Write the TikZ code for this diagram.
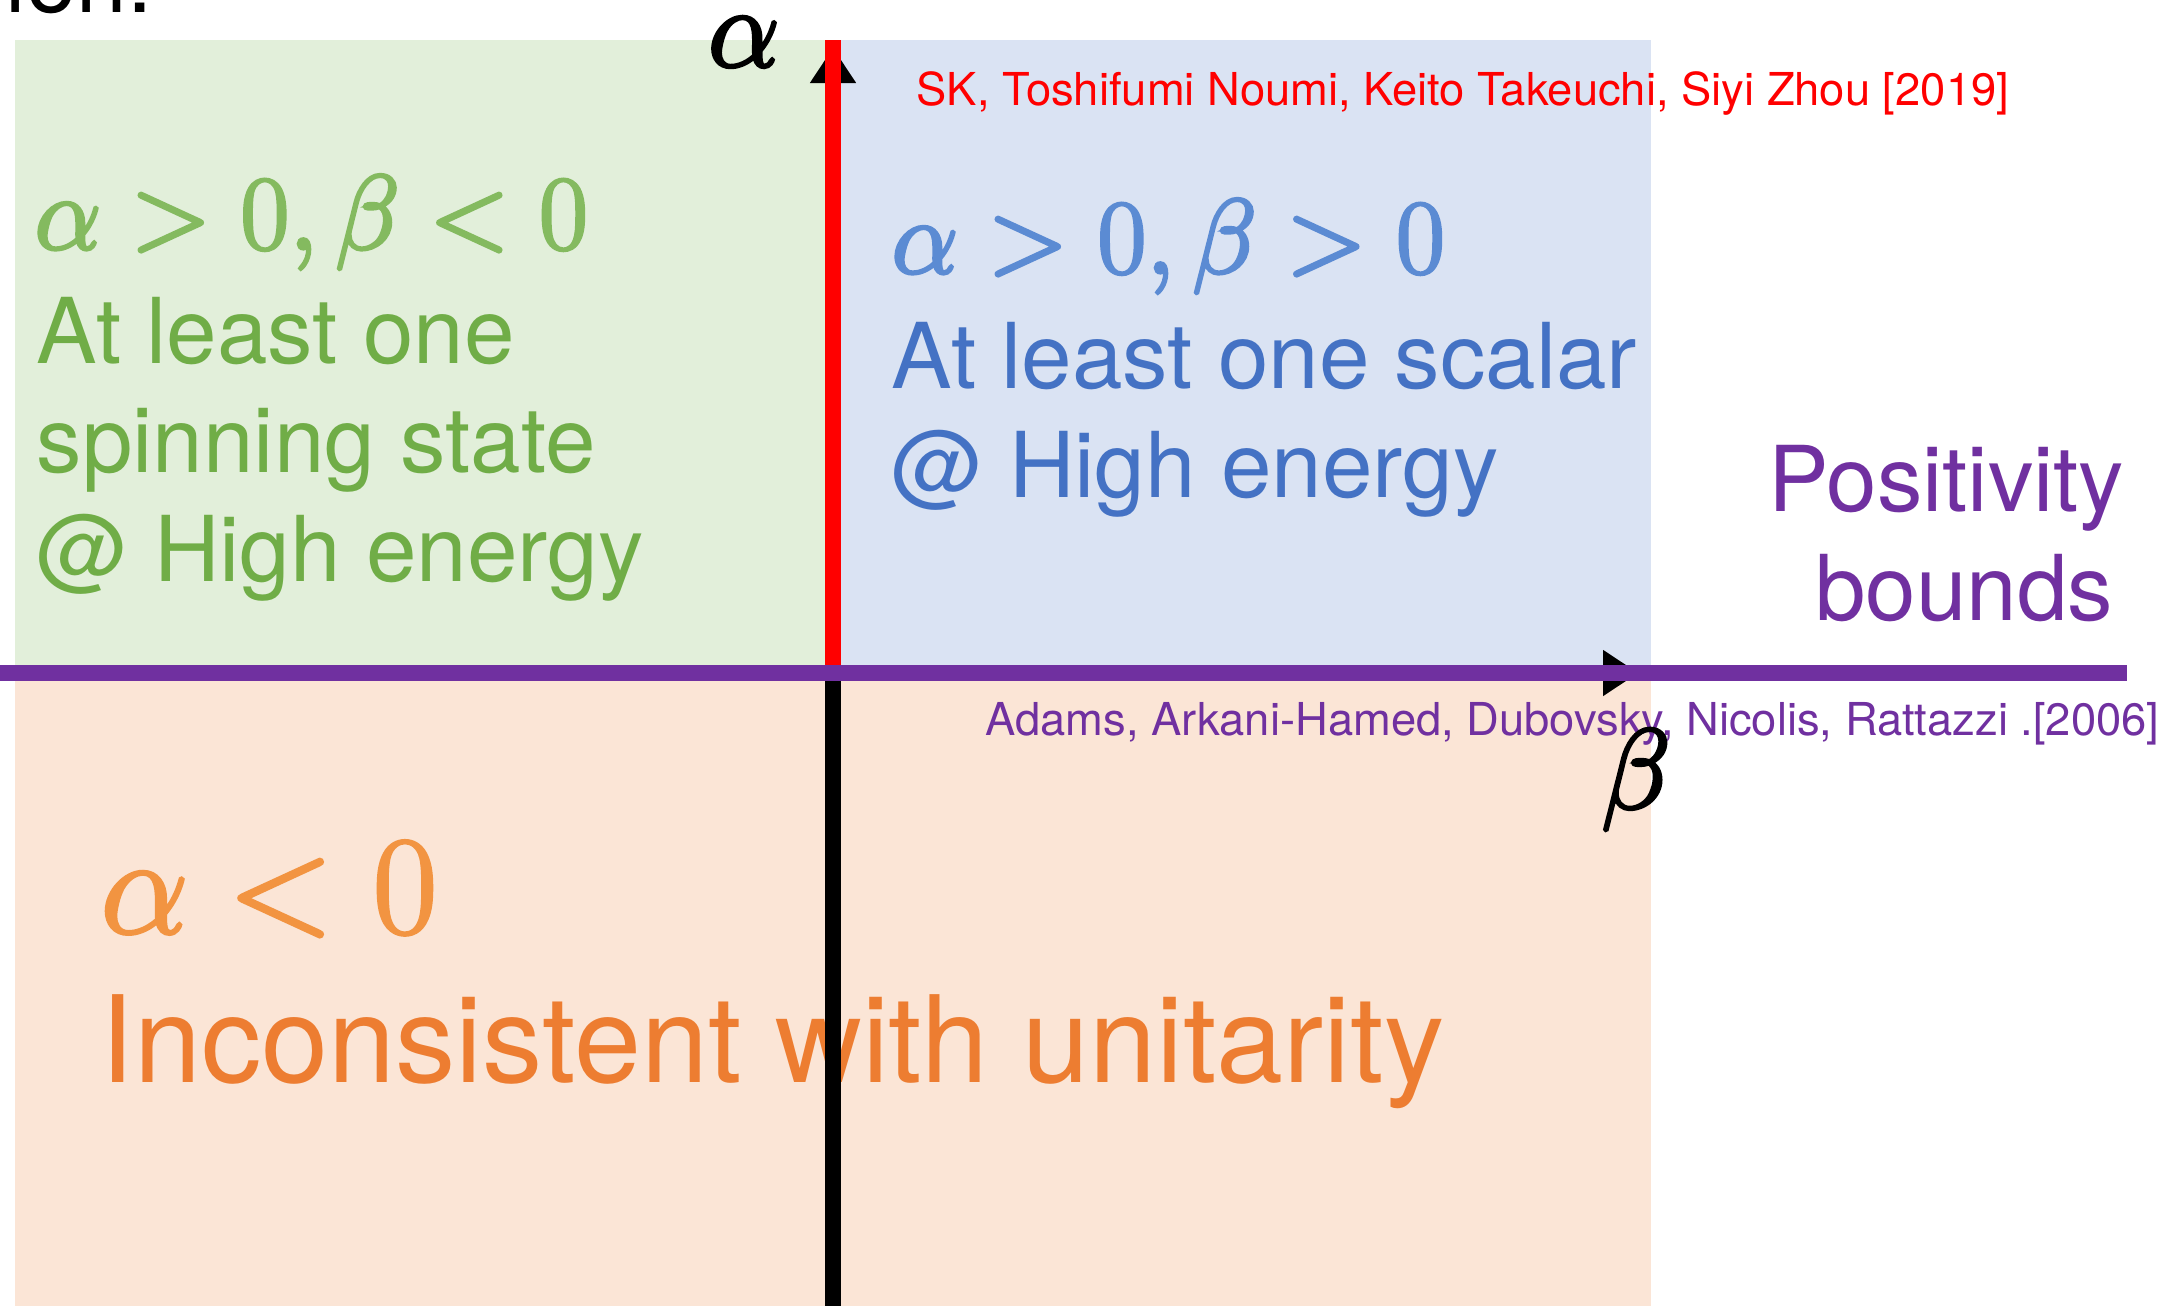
\RequirePackage{fix-cm}
\documentclass[tikz,border=0pt]{standalone}
\usepackage[no-math]{fontspec}
\setmainfont{TeX Gyre Heros}
\usetikzlibrary{arrows.meta}
\definecolor{regiongreen}{HTML}{E2EFDA}
\definecolor{regionblue}{HTML}{DAE3F3}
\definecolor{regionpeach}{HTML}{FBE5D6}
\definecolor{textgreen}{HTML}{70AD47}
\definecolor{mathgreen}{HTML}{84BA5F}
\definecolor{textblue}{HTML}{4472C4}
\definecolor{mathblue}{HTML}{5B8BD3}
\definecolor{textorange}{HTML}{ED7D31}
\definecolor{mathorange}{HTML}{F29441}
\definecolor{boundpurple}{HTML}{7030A0}
\newcommand{\heavymath}[1]{\special{pdf:literal direct 2 Tr 0.9 w}#1\special{pdf:literal direct 0 Tr}}

\begin{document}
\begin{tikzpicture}[x=0.1mm,y=-0.1mm,
		label text/.style={inner sep=0pt,font=\fontsize{25.85}{31}\selectfont},
		cite text/.style={inner sep=0pt,font=\fontsize{12.9}{15}\selectfont},
		region math/.style={inner sep=0pt,font=\fontsize{30.1}{36}\selectfont},
		axis label/.style={inner sep=0pt,font=\fontsize{32.4}{38}\selectfont},
		thick axis/.style={line width=1.6mm},
		axis tip/.style={-{Triangle[width=4.6mm,length=3.5mm]}}]
		\useasboundingbox (0,0) rectangle (2179,1306);
		\fill[regiongreen] (15,40) rectangle (833,673);
		\fill[regionblue] (833,40) rectangle (1651,673);
		\fill[regionpeach] (15,673) rectangle (1651,1306);
		\node[label text, anchor=base east] (title) at (153,12) {ion:};
		\node[region math, anchor=base west, text=mathgreen] (greenmath) at (34,249) {\heavymath{$\alpha>0, \beta<0$}};
		\node[label text, anchor=north west, align=left, text=textgreen] (greentext) at (36,297) {At least one\\spinning state\\@ High energy};
		\node[region math, anchor=base west, text=mathblue] (bluemath) at (891,273) {\heavymath{$\alpha>0, \beta>0$}};
		\node[label text, anchor=north west, align=left, text=textblue] (bluetext) at (891,322) {At least one scalar\\@ High energy};
		\node[label text, anchor=north east, align=right, text=boundpurple] (bounds) at (2125,445) {Positivity\\bounds\hspace*{1.1mm}};
		\node[cite text, anchor=base west, text=red] (newcite) at (916,105) {SK, Toshifumi Noumi, Keito Takeuchi, Siyi Zhou [2019]};
		\node[cite text, anchor=base west, text=boundpurple] (oldcite) at (985,735) {Adams, Arkani-Hamed, Dubovsky, Nicolis, Rattazzi .[2006]};
		\node[inner sep=0pt, font=\fontsize{39.8}{46}\selectfont, anchor=base west, text=mathorange] (orangemath) at (100,933) {\heavymath{$\alpha<0$}};
		\node[inner sep=0pt, font=\fontsize{34.3}{40}\selectfont, anchor=base west, text=textorange] (orangetext) at (100,1082) {Inconsistent with unitarity};
		\coordinate (origin) at (833,673);
		\coordinate (top) at (833,40);
		\coordinate (bottom) at (833,1306);
		\coordinate (alphatip) at (833,48);
		\coordinate (betatip) at (1638,673);
		\coordinate (left) at (0,673);
		\coordinate (right) at (2127,673);
		\draw[axis tip] (origin) -- (alphatip);
		\draw[axis tip] (origin) -- (betatip);
		\draw[thick axis] (origin) -- (bottom);
		\draw[thick axis, red] (origin) -- (top);
		\draw[thick axis, boundpurple] (left) -- (right);
		\node[axis label] (alphalabel) at (744,42) {\heavymath{$\alpha$}};
		\node[axis label] (betalabel) at (1636,780) {\heavymath{$\beta$}};
	\end{tikzpicture}
\end{document}
